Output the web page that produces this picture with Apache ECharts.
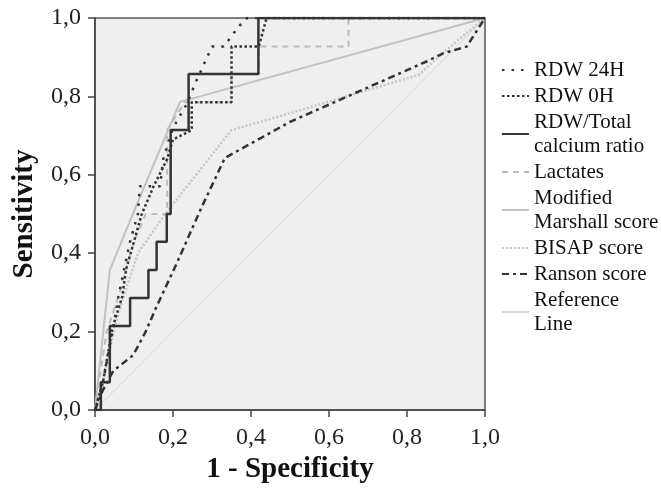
<!DOCTYPE html>
<html>
<head>
<meta charset="utf-8">
<script src="https://cdn.jsdelivr.net/npm/echarts@6/dist/echarts.min.js"></script>
<style>
  html, body { margin: 0; padding: 0; background: #fff; }
  #chart { width: 661px; height: 490px; }
</style>
</head>
<body>
<div id="chart"></div>
<script>
// ROC curves, points are [1 - specificity, sensitivity]
const rdw24h = [[0,0],[0.02,0.07],[0.045,0.2],[0.06,0.29],[0.09,0.43],[0.11,0.5],[0.115,0.571],[0.167,0.571],[0.175,0.64],[0.2,0.72],[0.235,0.78],[0.26,0.84],[0.3,0.927],[0.33,0.927],[0.37,0.98],[0.39,1],[1,1]]
const rdw0h = [[0,0],[0.02,0.07],[0.045,0.21],[0.07,0.29],[0.08,0.36],[0.1,0.43],[0.12,0.5],[0.15,0.57],[0.185,0.64],[0.2,0.69],[0.248,0.714],[0.248,0.785],[0.35,0.785],[0.35,0.927],[0.42,0.927],[0.44,1],[1,1]]
const rdwCalcium = [[0,0],[0.015,0],[0.015,0.071],[0.038,0.071],[0.038,0.214],[0.09,0.214],[0.09,0.286],[0.137,0.286],[0.137,0.357],[0.158,0.357],[0.158,0.429],[0.184,0.429],[0.184,0.5],[0.194,0.5],[0.194,0.714],[0.24,0.714],[0.24,0.857],[0.419,0.857],[0.419,1],[1,1]]
const lactates = [[0,0],[0.01,0.07],[0.03,0.2],[0.06,0.29],[0.1,0.43],[0.13,0.5],[0.185,0.5],[0.185,0.714],[0.23,0.785],[0.35,0.785],[0.35,0.857],[0.42,0.857],[0.42,0.927],[0.65,0.927],[0.65,1],[1,1]]
const marshall = [[0,0],[0.038,0.357],[0.097,0.5],[0.218,0.786],[1,1]]
const bisap = [[0,0],[0.02,0.07],[0.05,0.21],[0.08,0.31],[0.11,0.4],[0.18,0.5],[0.35,0.714],[0.5,0.757],[0.83,0.855],[0.9,0.918],[1,1]]
const ranson = [[0,0],[0.02,0.05],[0.047,0.1],[0.098,0.14],[0.13,0.2],[0.158,0.264],[0.21,0.375],[0.27,0.51],[0.333,0.643],[0.5,0.735],[0.85,0.889],[0.893,0.91],[0.953,0.927],[1,1]]
const referenceLine = [[0,0],[1,1]]

const names = ['RDW 24H', 'RDW 0H', 'RDW/Total calcium ratio', 'Lactates', 'Modified Marshall score', 'BISAP score', 'Ranson score', 'Reference Line']
const legendText = {
  'RDW/Total calcium ratio': 'RDW/Total\ncalcium ratio',
  'Modified Marshall score': 'Modified\nMarshall score',
  'Reference Line': 'Reference\nLine'
}

const serif = '"Liberation Serif", "DejaVu Serif", serif'
const comma = v => v.toFixed(1).replace('.', ',')

function line(name, data, color, width, type) {
  return {
    name: name,
    type: 'line',
    data: data,
    symbol: 'none',
    lineStyle: { color: color, width: width, type: type },
    itemStyle: { color: color },
    silent: true
  }
}

const option = {
  animation: false,
  backgroundColor: '#fff',
  grid: {
    left: 95, top: 18, width: 390, height: 392,
    outerBoundsMode: 'none', containLabel: false,
    show: true, backgroundColor: '#efefef', borderColor: '#555', borderWidth: 1.5
  },
  legend: {
    data: names,
    orient: 'vertical',
    left: 496, top: 53,
    itemWidth: 27, itemHeight: 12, itemGap: 2,
    itemStyle: { opacity: 0 },
    formatter: n => legendText[n] || n,
    textStyle: { fontFamily: serif, fontSize: 21, color: '#111', lineHeight: 24 },
    selectedMode: false
  },
  xAxis: {
    type: 'value', min: 0, max: 1, interval: 0.2,
    name: '1 - Specificity', nameLocation: 'middle', nameGap: 45,
    nameTextStyle: { fontFamily: serif, fontSize: 29, fontWeight: 'bold', color: '#111' },
    axisLine: { show: true, lineStyle: { color: '#444', width: 1.5 } },
    axisTick: { show: true, length: 7, lineStyle: { color: '#444', width: 1.5 } },
    axisLabel: { formatter: comma, fontFamily: serif, fontSize: 24, color: '#222', margin: 16 },
    splitLine: { show: false }
  },
  yAxis: {
    type: 'value', min: 0, max: 1, interval: 0.2,
    name: 'Sensitivity', nameLocation: 'middle', nameGap: 56,
    nameTextStyle: { fontFamily: serif, fontSize: 29, fontWeight: 'bold', color: '#111' },
    axisLine: { show: true, lineStyle: { color: '#444', width: 1.5 } },
    axisTick: { show: true, length: 7, lineStyle: { color: '#444', width: 1.5 } },
    axisLabel: { formatter: comma, fontFamily: serif, fontSize: 24, color: '#222', margin: 14 },
    splitLine: { show: false }
  },
  series: [
    line('Reference Line', referenceLine, '#d6d6d6', 1, 'solid'),
    line('Modified Marshall score', marshall, '#c2c2c2', 2, 'solid'),
    line('BISAP score', bisap, '#c6c6c6', 2.5, [2, 2]),
    line('Lactates', lactates, '#bcbcbc', 2, [6, 5]),
    line('Ranson score', ranson, '#333', 2.5, [7, 4, 3, 4]),
    line('RDW 24H', rdw24h, '#333', 2.5, [2.5, 7]),
    line('RDW 0H', rdw0h, '#333', 2.5, [2.5, 2.5]),
    line('RDW/Total calcium ratio', rdwCalcium, '#333', 2.5, 'solid')
  ]
}

const chart = echarts.init(document.getElementById('chart'))
chart.setOption(option)
</script>
</body>
</html>
